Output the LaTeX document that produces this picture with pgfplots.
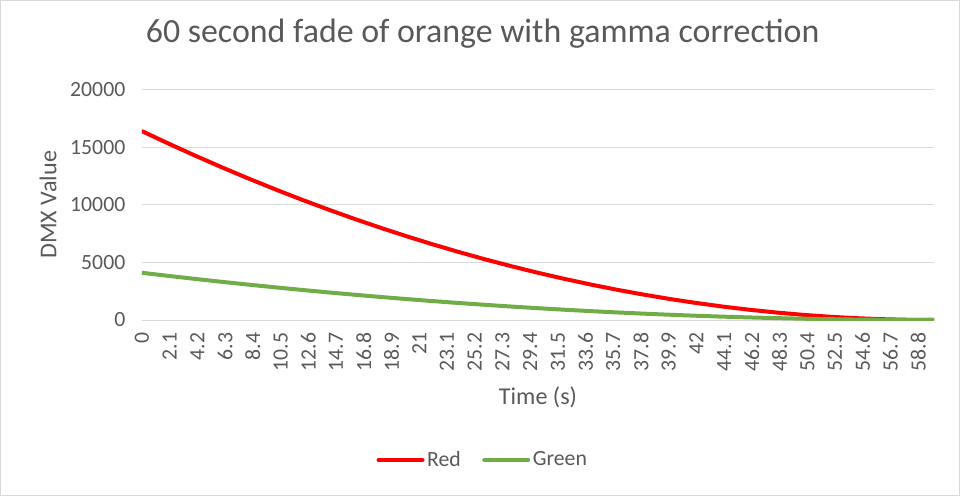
\documentclass[border=0pt]{standalone}
\usepackage{pgfplots}
\pgfplotsset{compat=1.18}
\usepackage{fontspec}
\setmainfont{Carlito}
\definecolor{txt}{HTML}{595959}
\definecolor{gridc}{HTML}{D9D9D9}
\definecolor{exred}{HTML}{FF0000}
\definecolor{exgreen}{HTML}{70AD47}
\pgfplotstableread{
t red green
0 16384 4096
2 15309.9 3827.5
4 14272.3 3568.1
6 13271.0 3317.8
8 12306.2 3076.6
10 11377.8 2844.4
12 10485.8 2621.4
14 9630.1 2407.5
16 8810.9 2202.7
18 8028.2 2007.0
20 7281.8 1820.4
22 6571.8 1643.0
24 5898.2 1474.6
26 5261.1 1315.3
28 4660.3 1165.1
30 4096 1024
32 3568.1 892.0
34 3076.5 769.1
36 2621.4 655.4
38 2202.7 550.7
40 1820.4 455.1
42 1474.6 368.6
44 1165.1 291.3
46 892.0 223.0
48 655.4 163.8
50 455.1 113.8
52 291.3 72.8
54 163.8 41.0
56 72.8 18.2
58 18.2 4.6
60 0 0
}\fade
\begin{document}
\begin{tikzpicture}
\useasboundingbox (0,0) rectangle (720pt,372pt);
\draw[gridc, line width=0.75pt] (0.4pt,0.4pt) rectangle (719.6pt,371.6pt);
\begin{axis}[
  at={(106.5pt,132pt)}, anchor=south west,
  scale only axis, width=594pt, height=172.9pt,
  xmin=0, xmax=60, ymin=0, ymax=20000,
  axis line style={draw=none},
  tick style={draw=none},
  ymajorgrids, xmajorgrids=false,
  grid style={gridc, line width=0.75pt},
  scaled y ticks=false,
  ytick={0,5000,10000,15000,20000},
  yticklabel style={font=\fontsize{16.3}{18}\selectfont, text=txt},
  yticklabel shift=9pt,
  /pgf/number format/1000 sep={},
  /pgf/number format/assume math mode=true,
  xtick={0,2.1,4.2,6.3,8.4,10.5,12.6,14.7,16.8,18.9,21,23.1,25.2,27.3,29.4,31.5,33.6,35.7,37.8,39.9,42,44.1,46.2,48.3,50.4,52.5,54.6,56.7,58.8},
  xticklabels={0,2.1,4.2,6.3,8.4,10.5,12.6,14.7,16.8,18.9,21,23.1,25.2,27.3,29.4,31.5,33.6,35.7,37.8,39.9,42,44.1,46.2,48.3,50.4,52.5,54.6,56.7,58.8},
  xticklabel style={font=\fontsize{16.3}{18}\selectfont, text=txt, rotate=90, anchor=east},
  xticklabel shift=6pt,
  xlabel={Time (s)},
  xlabel style={font=\fontsize{18.1}{20}\selectfont, text=txt, at={(axis description cs:0.5,-0.334)}, anchor=center},
  ylabel={DMX Value},
  ylabel style={font=\fontsize{18.1}{20}\selectfont, text=txt, at={(axis description cs:-0.1187,0.5)}, anchor=center, rotate=0},
  title={60 second fade of orange with gamma correction},
  title style={font=\fontsize{25.4}{28}\selectfont, text=txt, at={(axis description cs:0.4301,1.206)}, anchor=center},
  legend columns=2,
  legend style={draw=none, fill=none, font=\fontsize{16.3}{18}\selectfont, text=txt,
    at={(axis description cs:0.4306,-0.607)}, anchor=center,
    /tikz/every even column/.append style={column sep=14pt}},
  legend image code/.code={\draw[#1, line cap=round] (0pt,0pt) -- (33pt,0pt);},
]
\addplot[exred, line width=3pt, line cap=round, line join=round] table[x=t, y=red] {\fade};
\addlegendentry{Red}
\addplot[exgreen, line width=3pt, line cap=round, line join=round] table[x=t, y=green] {\fade};
\addlegendentry{Green}
\end{axis}
\end{tikzpicture}
\end{document}
